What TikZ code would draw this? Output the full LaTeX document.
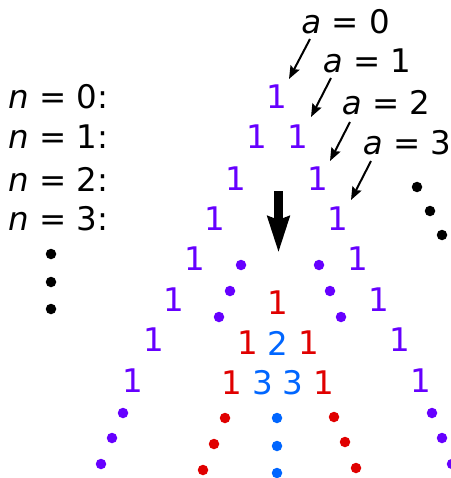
\documentclass[tikz,border=0pt]{standalone}
\usepackage{fontspec}
\setmainfont{DejaVu Sans}
\usetikzlibrary{arrows.meta}
\definecolor{cpur}{RGB}{102,0,255}
\definecolor{cred}{RGB}{224,0,0}
\definecolor{cblu}{RGB}{0,102,255}
\tikzset{
  txt/.style={inner sep=0pt, font=\fontsize{32.5}{38}\selectfont},
  pur/.style={txt, text=cpur},
  red/.style={txt, text=cred},
  blu/.style={txt, text=cblu},
  dotp/.style={circle, fill=cpur, inner sep=0pt, minimum size=10.5pt},
  dotr/.style={circle, fill=cred, inner sep=0pt, minimum size=10.5pt},
  dotb/.style={circle, fill=cblu, inner sep=0pt, minimum size=10.5pt},
  dotk/.style={circle, fill=black, inner sep=0pt, minimum size=10.5pt},
  smallarrow/.style={line width=2pt, -{Stealth[length=13pt, width=10pt, inset=2pt]}},
  bigarrow/.style={line width=9pt, -{Stealth[length=36pt, width=21pt, inset=3pt]}}
}
\begin{document}
\begin{tikzpicture}[x=1pt, y=-1pt]
\useasboundingbox (0,0) rectangle (450,478);
% row labels
\node[txt, anchor=west] (n0) at (8,97) {{\itshape n} = 0:};
\node[txt, anchor=west] (n1) at (8,137) {{\itshape n} = 1:};
\node[txt, anchor=west] (n2) at (8,179) {{\itshape n} = 2:};
\node[txt, anchor=west] (n3) at (8,219) {{\itshape n} = 3:};
\node[dotk] (k1) at (51,254) {};
\node[dotk] (k2) at (51,282) {};
\node[dotk] (k3) at (51,309) {};
% a labels
\node[txt] (a0) at (345.5,22) {{\itshape a} = 0};
\node[txt] (a1) at (367,61) {{\itshape a} = 1};
\node[txt] (a2) at (386,103) {{\itshape a} = 2};
\node[txt] (a3) at (407,143) {{\itshape a} = 3};
\coordinate (s0) at (310,39); \coordinate (e0) at (289,79);
\coordinate (s1) at (331,78); \coordinate (e1) at (311,117);
\coordinate (s2) at (350,122); \coordinate (e2) at (330,161);
\coordinate (s3) at (371,161); \coordinate (e3) at (351,200);
\draw[smallarrow] (s0) -- (e0);
\draw[smallarrow] (s1) -- (e1);
\draw[smallarrow] (s2) -- (e2);
\draw[smallarrow] (s3) -- (e3);
% purple outer ones
\node[pur] (p0) at (277,97) {1};
\node[pur] (l1) at (256.5,137) {1};
\node[pur] (r1) at (297.5,137) {1};
\node[pur] (l2) at (236,179) {1};
\node[pur] (r2) at (318,179) {1};
\node[pur] (l3) at (215,219) {1};
\node[pur] (r3) at (338,219) {1};
\node[pur] (l4) at (195,259) {1};
\node[pur] (r4) at (358,259) {1};
\node[pur] (l5) at (174,300) {1};
\node[pur] (r5) at (379,300) {1};
\node[pur] (l6) at (154,340) {1};
\node[pur] (r6) at (400,340) {1};
\node[pur] (l7) at (133,381) {1};
\node[pur] (r7) at (421,381) {1};
\node[dotp] (pl1) at (123,413) {};
\node[dotp] (pl2) at (112,438) {};
\node[dotp] (pl3) at (101,464) {};
\node[dotp] (pr1) at (432,413) {};
\node[dotp] (pr2) at (442,438) {};
\node[dotp] (pr3) at (452,464) {};
% inner purple dots
\node[dotp] (ql1) at (241,265) {};
\node[dotp] (ql2) at (230,291) {};
\node[dotp] (ql3) at (219,317) {};
\node[dotp] (qr1) at (319,265) {};
\node[dotp] (qr2) at (330,291) {};
\node[dotp] (qr3) at (341,317) {};
% right diagonal black dots
\node[dotk] (d1) at (417,187) {};
\node[dotk] (d2) at (430,211) {};
\node[dotk] (d3) at (442,235) {};
% big arrow
\coordinate (bt) at (278.5,191);
\coordinate (bb) at (278.5,253);
\draw[bigarrow] (bt) -- (bb);
% inner triangle
\node[red] (c0) at (278,303) {1};
\node[red] (c1l) at (248,343) {1};
\node[blu] (c1m) at (278,343) {2};
\node[red] (c1r) at (309,343) {1};
\node[red] (c2a) at (232,383) {1};
\node[blu] (c2b) at (263,383) {3};
\node[blu] (c2c) at (293,383) {3};
\node[red] (c2d) at (324,383) {1};
\node[dotr] (rl1) at (225,418) {};
\node[dotr] (rl2) at (214,444) {};
\node[dotr] (rl3) at (203,470) {};
\node[dotr] (rr1) at (334,417) {};
\node[dotr] (rr2) at (345,442) {};
\node[dotr] (rr3) at (356,468) {};
\node[dotb] (b1) at (277,418) {};
\node[dotb] (b2) at (277,446) {};
\node[dotb] (b3) at (277,473) {};
\end{tikzpicture}
\end{document}
